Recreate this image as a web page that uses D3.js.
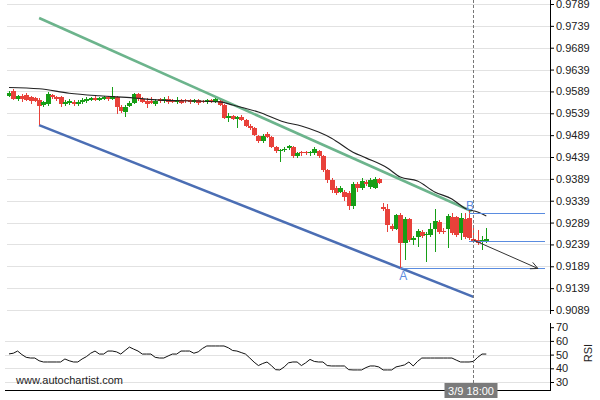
<!DOCTYPE html>
<html><head><meta charset="utf-8">
<script src="https://cdn.jsdelivr.net/npm/d3@7"></script>
<style>html,body{margin:0;padding:0;background:#fff;}svg{display:block;}</style>
</head><body><svg id="c" width="600" height="400"></svg>
<script>
// ---- data ----
const opens = [
.9579,.9590,.9572,.9579,.9581,.9576,.9574,.9569,.9558,.9560,
.9581,.9576,.9576,.9560,.9563,.9565,.9560,.9565,.9567,.9569,
.9574,.9569,.9572,.9576,.9572,.9576,.9553,.9542,.9556,.9563,
.9583,.9572,.9567,.9567,.9560,.9572,.9567,.9572,.9569,.9565,
.9569,.9569,.9569,.9565,.9569,.9567,.9565,.9569,.9565,.9567,
.9558,.9528,.9533,.9526,.9531,.9524,.9510,.9505,.9487,.9476,
.9492,.9485,.9462,.9453,.9455,.9460,.9462,.9441,.9450,.9450,
.9448,.9448,.9453,.9441,.9409,.9386,.9368,.9359,.9359,.9357,
.9327,.9377,.9368,.9382,.9370,.9368,.9389,.9325,.9320,.9281,
.9274,.9306,.9242,.9297,.9249,.9256,.9267,.9261,.9261,.9274,
.9290,.9270,.9274,.9302,.9302,.9265,.9297,.9299,.9251,.9249,
.9245,.9245];
const highs = [
.9590,.9595,.9581,.9583,.9585,.9579,.9576,.9574,.9567,.9588,
.9583,.9579,.9579,.9569,.9572,.9569,.9569,.9574,.9576,.9576,
.9579,.9576,.9579,.9579,.9599,.9579,.9558,.9558,.9567,.9585,
.9585,.9576,.9574,.9576,.9572,.9574,.9576,.9579,.9572,.9576,
.9572,.9572,.9572,.9572,.9572,.9569,.9572,.9572,.9574,.9569,
.9560,.9540,.9535,.9533,.9535,.9526,.9514,.9508,.9489,.9492,
.9496,.9487,.9464,.9457,.9462,.9466,.9464,.9450,.9453,.9453,
.9453,.9462,.9455,.9444,.9412,.9391,.9373,.9373,.9364,.9361,
.9382,.9382,.9391,.9386,.9391,.9393,.9391,.9334,.9331,.9286,
.9309,.9311,.9302,.9299,.9258,.9274,.9272,.9267,.9288,.9320,
.9295,.9277,.9309,.9311,.9304,.9311,.9311,.9320,.9277,.9272,
.9258,.9277];
const lows = [
.9576,.9569,.9567,.9565,.9567,.9560,.9565,.9512,.9553,.9556,
.9572,.9567,.9553,.9556,.9558,.9556,.9556,.9560,.9563,.9567,
.9567,.9567,.9569,.9567,.9569,.9537,.9540,.9531,.9553,.9560,
.9567,.9563,.9551,.9560,.9556,.9563,.9563,.9560,.9563,.9560,
.9560,.9563,.9560,.9563,.9558,.9563,.9560,.9563,.9563,.9556,
.9526,.9519,.9524,.9505,.9521,.9508,.9501,.9487,.9471,.9471,
.9482,.9460,.9448,.9428,.9450,.9455,.9437,.9437,.9441,.9444,
.9441,.9444,.9437,.9405,.9380,.9357,.9352,.9357,.9338,.9318,
.9320,.9359,.9364,.9373,.9366,.9366,.9377,.9316,.9267,.9270,
.9272,.9185,.9203,.9245,.9238,.9233,.9254,.9199,.9256,.9222,
.9263,.9263,.9231,.9261,.9256,.9249,.9251,.9249,.9242,.9238,
.9226,.9242];
const closes = [
.9585,.9572,.9579,.9572,.9569,.9567,.9567,.9556,.9565,.9583,
.9576,.9572,.9560,.9565,.9567,.9560,.9565,.9569,.9572,.9574,
.9569,.9574,.9576,.9572,.9579,.9553,.9544,.9553,.9563,.9583,
.9572,.9565,.9560,.9563,.9567,.9567,.9572,.9565,.9565,.9569,
.9563,.9567,.9565,.9569,.9563,.9565,.9569,.9565,.9572,.9558,
.9528,.9533,.9526,.9531,.9524,.9510,.9505,.9489,.9476,.9487,
.9485,.9462,.9453,.9455,.9457,.9464,.9441,.9448,.9448,.9448,
.9450,.9457,.9441,.9409,.9386,.9364,.9357,.9368,.9348,.9327,
.9377,.9368,.9384,.9377,.9386,.9389,.9380,.9320,.9283,.9274,
.9306,.9242,.9297,.9249,.9254,.9270,.9258,.9263,.9274,.9293,
.9267,.9267,.9304,.9265,.9261,.9299,.9256,.9254,.9245,.9242,
.9249,.9251];

// moving average (sampled at candle indices)
const maIdx = [0,7,14,21,29,35,44,49,52,54,58,64,68,72,75,80,83,88,91,95,99,103,106,109,111];
const maVal = [.9598,.9595,.9585,.9579,.9574,.9569,.9567,.9565,.9558,.9553,.9542,.9519,.9510,.9496,.9482,.9450,.9437,.9414,.9393,.9384,.9359,.9343,.9322,.9313,.9304];

// RSI per candle
const rsiVals = [
50.5,51,52.6,50,48,47.5,47.5,45.5,44.6,44.6,
44.6,44.6,44.6,46.8,45.5,44.6,44.6,46.8,48.5,51,
52.6,50.4,50.4,52.6,52.6,52,50.4,53,55.5,54,
52.6,50.4,50.4,50.4,48,47.5,47.5,49,50.4,50.4,
52.6,52.6,52.6,51,52,54.5,56.3,56.3,56.3,56.3,
56.3,55,53,52.6,51.5,50.4,47.5,44.5,42,43.5,
44.6,42,39,38.8,41,44,44.6,44.6,42,44,
46.5,45,44.6,44.6,42,41.7,41.7,41.7,41.7,39,
38.8,38.8,38.8,40.5,41.7,41.7,41,38.8,38.8,38.8,
41,41.7,42.5,44.6,41.7,45,47.5,47.5,47.5,47.5,
47.5,47.5,47.5,47.5,46,44.6,44.6,44.6,45,48,
50.4,50.4];

// pattern drawings: [candle index, price]
const upperTrend = [[7, 0.9757], [107.6, 0.9315]];
const lowerTrend = [[7, 0.9512], [108, 0.9119]];
const levelNames = ["B", "C", "A"];
const levelStart = [107, 107, 91];
const levelPrice = [0.9311, 0.9246, 0.9184];
const forecast = [[108, 0.9249], [123, 0.9184]];
const pointA = [91, 0.9185];
const pointB = [107, 0.9311];
const currentIdx = 108;
const currentLabel = "3/9 18:00";

const priceTicks = [0.9789,0.9739,0.9689,0.9639,0.9589,0.9539,0.9489,0.9439,0.9389,0.9339,0.9289,0.9239,0.9189,0.9139,0.9089];
const rsiTicks = [70,60,50,40,30];
const rsiGrid = [60,50,40,30];

// ---- drawing ----
const svg = d3.select("#c");
const FONT = "'Liberation Sans', Arial, sans-serif";
const AX = 550;
const x = d3.scaleLinear().domain([0, 111]).range([9, 486.3]);
const y = d3.scaleLinear().domain([0.9089, 0.9789]).range([310, 4]);
const yr = d3.scaleLinear().domain([30, 70]).range([382, 327.2]);
const px = v => Math.round(v) + 0.5;

// grids
svg.append("g").selectAll("line").data(priceTicks).join("line")
  .attr("x1", 7).attr("x2", AX).attr("y1", d => px(y(d))).attr("y2", d => px(y(d)))
  .attr("stroke", "#e2e2e2").attr("shape-rendering", "crispEdges");
svg.append("g").selectAll("line").data(rsiGrid).join("line")
  .attr("x1", 5).attr("x2", AX).attr("y1", d => px(yr(d))).attr("y2", d => px(yr(d)))
  .attr("stroke", "#e2e2e2").attr("shape-rendering", "crispEdges");

// price axis
const gY = svg.append("g").attr("transform", `translate(${AX},0)`)
  .call(d3.axisRight(y).tickValues(priceTicks).tickFormat(d3.format(".4f")).tickSize(4).tickPadding(2));
gY.select(".domain").remove();
svg.append("line").attr("x1", AX + 0.5).attr("x2", AX + 0.5).attr("y1", 0).attr("y2", 314)
  .attr("stroke", "#000");

// RSI axis
const gR = svg.append("g").attr("transform", `translate(${AX},0)`)
  .call(d3.axisRight(yr).tickValues(rsiTicks).tickFormat(d3.format("d")).tickSize(4).tickPadding(2));
gR.select(".domain").remove();
svg.append("line").attr("x1", AX + 0.5).attr("x2", AX + 0.5).attr("y1", 323).attr("y2", 391)
  .attr("stroke", "#000");
[gY, gR].forEach(g => {
  g.selectAll("text").attr("font-family", FONT).attr("font-size", 11).attr("fill", "#222");
  g.selectAll(".tick line").attr("stroke", "#000");
});
svg.append("text").attr("transform", "translate(592,353) rotate(-90)")
  .attr("text-anchor", "middle").attr("font-family", FONT).attr("font-size", 11)
  .attr("fill", "#222").text("RSI");

// bottom line
svg.append("line").attr("x1", 5).attr("x2", AX).attr("y1", 390.5).attr("y2", 390.5).attr("stroke", "#000");

// trend lines
const tl = d3.line().x(d => x(d[0])).y(d => y(d[1]));
svg.append("path").attr("d", tl(upperTrend)).attr("stroke", "#6cb48c").attr("stroke-width", 2.6).attr("fill", "none");
svg.append("path").attr("d", tl(lowerTrend)).attr("stroke", "#4b6eb4").attr("stroke-width", 2.6).attr("fill", "none");

// candles
const idx = d3.range(opens.length);
const red = "#e8413a", green = "#169e16";
const cg = svg.append("g").attr("shape-rendering", "crispEdges");
cg.selectAll("line").data(idx).join("line")
  .attr("x1", i => px(x(i))).attr("x2", i => px(x(i)))
  .attr("y1", i => Math.round(y(highs[i]))).attr("y2", i => Math.round(y(lows[i])))
  .attr("stroke", i => closes[i] >= opens[i] ? green : red);
cg.selectAll("rect").data(idx).join("rect")
  .attr("x", i => Math.round(x(i)) - 2).attr("width", 5)
  .attr("y", i => Math.round(y(Math.max(opens[i], closes[i]))))
  .attr("height", i => Math.max(1, Math.round(Math.abs(y(opens[i]) - y(closes[i])))))
  .attr("fill", i => closes[i] >= opens[i] ? green : red);

// moving average
svg.append("path")
  .attr("d", d3.line().x((d, k) => x(maIdx[k])).y(d => y(d)).curve(d3.curveMonotoneX)(maVal))
  .attr("stroke", "#222").attr("stroke-width", 1.1).attr("fill", "none");

// RSI
svg.append("path")
  .attr("d", d3.line().x((d, i) => x(i)).y(d => yr(d))(rsiVals))
  .attr("stroke", "#111").attr("stroke-width", 1).attr("fill", "none");

// levels
levelNames.forEach((n, k) => {
  svg.append("line").attr("x1", x(levelStart[k])).attr("x2", 545)
    .attr("y1", px(y(levelPrice[k]))).attr("y2", px(y(levelPrice[k])))
    .attr("stroke", "#5a8ce0").attr("stroke-width", 1).attr("shape-rendering", "crispEdges");
});

// forecast arrow
const a0 = [x(forecast[0][0]), y(forecast[0][1])], a1 = [x(forecast[1][0]), y(forecast[1][1])];
svg.append("line").attr("x1", a0[0]).attr("y1", a0[1]).attr("x2", a1[0]).attr("y2", a1[1])
  .attr("stroke", "#333").attr("stroke-width", 1);
const ang = Math.atan2(a1[1] - a0[1], a1[0] - a0[0]);
const hl = 8, spread = 0.45;
svg.append("path").attr("d",
  `M${a1[0] - hl * Math.cos(ang - spread)},${a1[1] - hl * Math.sin(ang - spread)}L${a1[0]},${a1[1]}L${a1[0] - hl * Math.cos(ang + spread)},${a1[1] - hl * Math.sin(ang + spread)}`)
  .attr("stroke", "#333").attr("fill", "none");

// A / B labels
svg.append("text").attr("x", x(pointA[0]) + 3).attr("y", y(pointA[1]) + 12)
  .attr("text-anchor", "middle").attr("font-family", FONT).attr("font-size", 12)
  .attr("fill", "#5a8ce0").text("A");
svg.append("text").attr("x", x(pointB[0]) + 1).attr("y", y(pointB[1]) - 3)
  .attr("text-anchor", "middle").attr("font-family", FONT).attr("font-size", 12)
  .attr("fill", "#5a8ce0").text("B");

// current time marker
const cx = px(x(currentIdx));
svg.append("line").attr("x1", cx).attr("x2", cx).attr("y1", 0).attr("y2", 383)
  .attr("stroke", "#777").attr("stroke-dasharray", "3,2");
svg.append("rect").attr("x", cx - 29).attr("y", 383).attr("width", 53).attr("height", 15).attr("fill", "#7b7b7b");
svg.append("text").attr("x", cx - 2.5).attr("y", 394.5).attr("text-anchor", "middle")
  .attr("font-family", FONT).attr("font-size", 11).attr("fill", "#fff").text(currentLabel);

// watermark
svg.append("text").attr("x", 16).attr("y", 384).attr("font-family", FONT).attr("font-size", 11)
  .attr("fill", "#222").text("www.autochartist.com");
</script></body></html>
